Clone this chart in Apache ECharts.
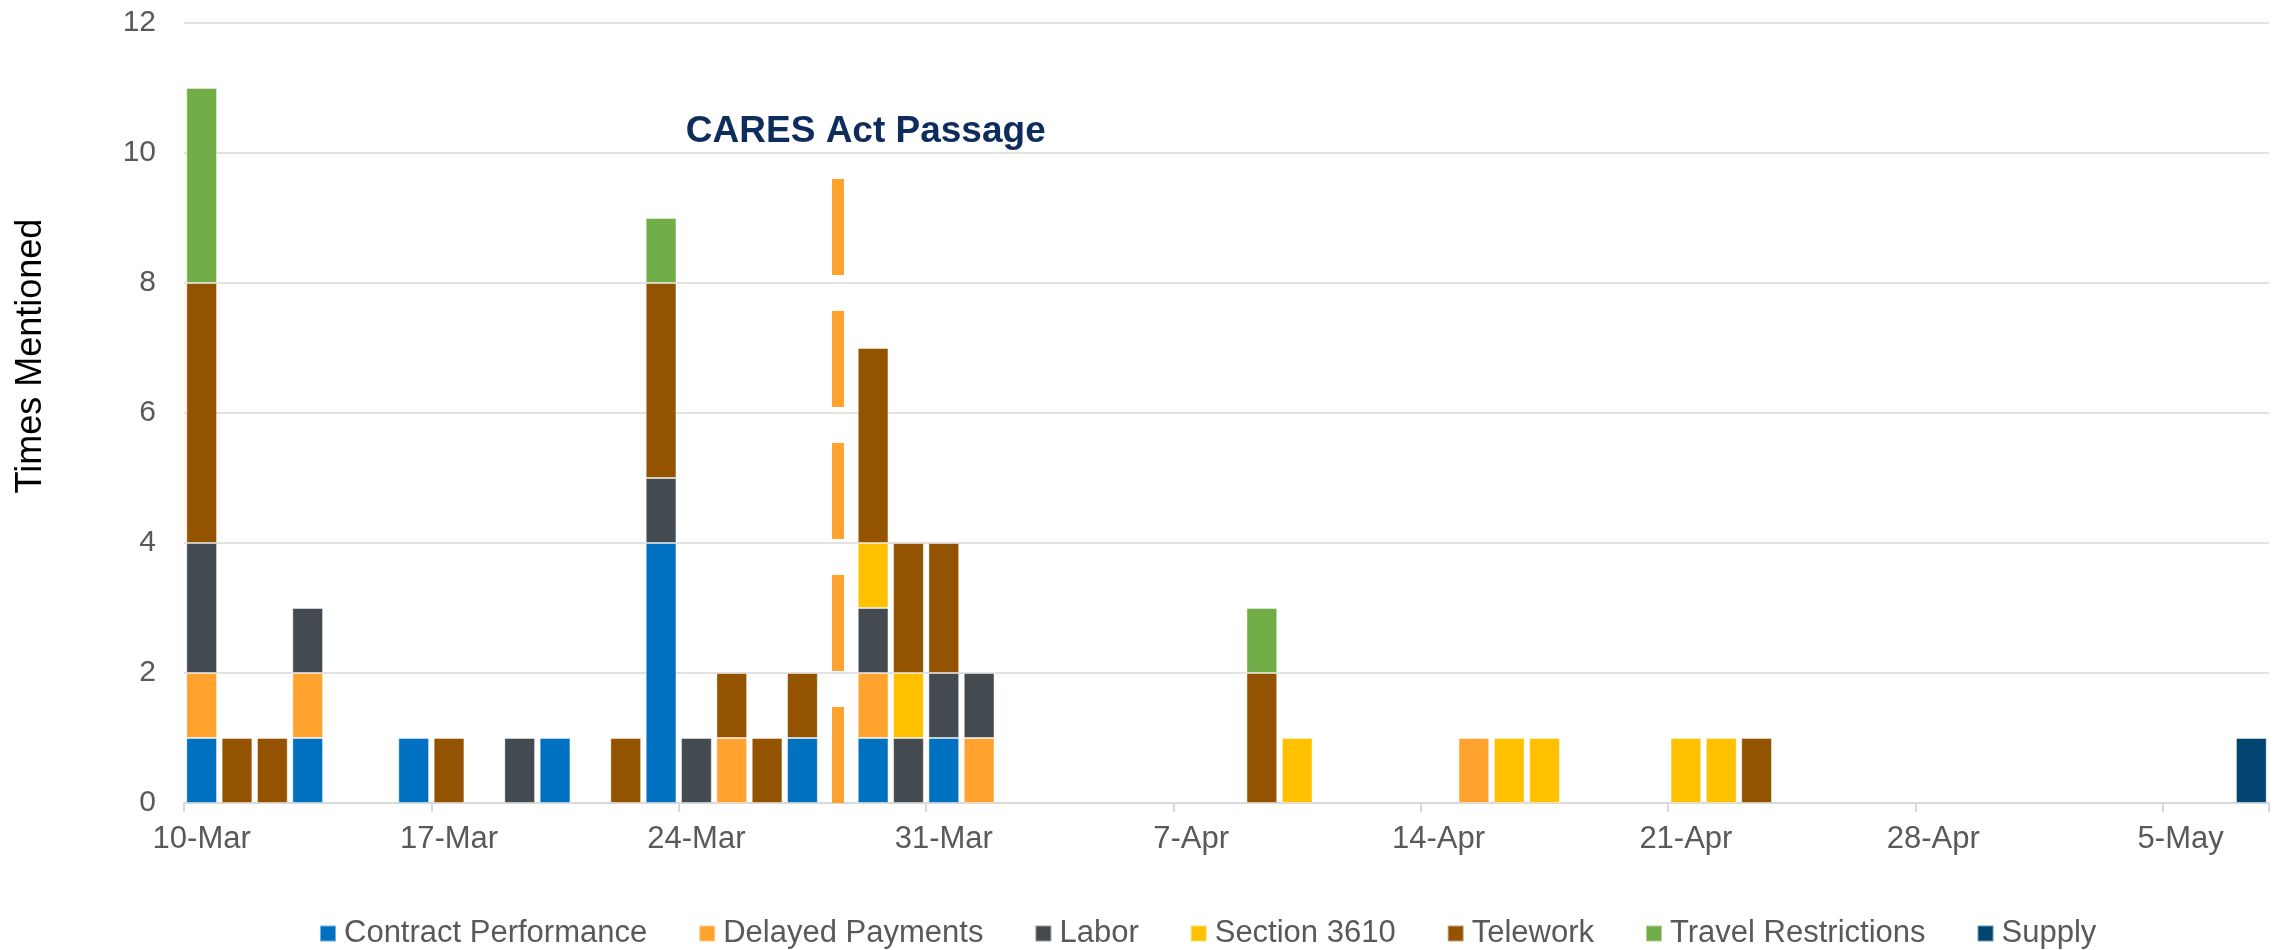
<!DOCTYPE html>
<html>
<head>
<meta charset="utf-8">
<title>Times Mentioned</title>
<script src="https://cdn.jsdelivr.net/npm/echarts@6/dist/echarts.min.js"></script>
<style>
  html, body { margin: 0; padding: 0; background: #fff; }
  #charts { width: 2280px; height: 950px; }
</style>
</head>
<body>
<div id="charts"></div>
<script>
// one category per day, 10-Mar .. 7-May
let days = [
  "10-Mar", "11-Mar", "12-Mar", "13-Mar", "14-Mar", "15-Mar", "16-Mar",
  "17-Mar", "18-Mar", "19-Mar", "20-Mar", "21-Mar", "22-Mar", "23-Mar",
  "24-Mar", "25-Mar", "26-Mar", "27-Mar", "28-Mar", "29-Mar", "30-Mar",
  "31-Mar", "1-Apr", "2-Apr", "3-Apr", "4-Apr", "5-Apr", "6-Apr",
  "7-Apr", "8-Apr", "9-Apr", "10-Apr", "11-Apr", "12-Apr", "13-Apr",
  "14-Apr", "15-Apr", "16-Apr", "17-Apr", "18-Apr", "19-Apr", "20-Apr",
  "21-Apr", "22-Apr", "23-Apr", "24-Apr", "25-Apr", "26-Apr", "27-Apr",
  "28-Apr", "29-Apr", "30-Apr", "1-May", "2-May", "3-May", "4-May",
  "5-May", "6-May", "7-May"
];

// 10-Mar                17-Mar                24-Mar                31-Mar                7-Apr                 14-Apr                21-Apr                28-Apr                5-May
let contractPerformance = [
  1, 0, 0, 1, 0, 0, 1,   0, 0, 0, 1, 0, 0, 4,   0, 0, 0, 1, 0, 1, 0,   1, 0, 0, 0, 0, 0, 0,   0, 0, 0, 0, 0, 0, 0,   0, 0, 0, 0, 0, 0, 0,   0, 0, 0, 0, 0, 0, 0,   0, 0, 0, 0, 0, 0, 0,   0, 0, 0
];
let delayedPayments = [
  1, 0, 0, 1, 0, 0, 0,   0, 0, 0, 0, 0, 0, 0,   0, 1, 0, 0, 0, 1, 0,   0, 1, 0, 0, 0, 0, 0,   0, 0, 0, 0, 0, 0, 0,   0, 1, 0, 0, 0, 0, 0,   0, 0, 0, 0, 0, 0, 0,   0, 0, 0, 0, 0, 0, 0,   0, 0, 0
];
let labor = [
  2, 0, 0, 1, 0, 0, 0,   0, 0, 1, 0, 0, 0, 1,   1, 0, 0, 0, 0, 1, 1,   1, 1, 0, 0, 0, 0, 0,   0, 0, 0, 0, 0, 0, 0,   0, 0, 0, 0, 0, 0, 0,   0, 0, 0, 0, 0, 0, 0,   0, 0, 0, 0, 0, 0, 0,   0, 0, 0
];
let section3610 = [
  0, 0, 0, 0, 0, 0, 0,   0, 0, 0, 0, 0, 0, 0,   0, 0, 0, 0, 0, 1, 1,   0, 0, 0, 0, 0, 0, 0,   0, 0, 0, 1, 0, 0, 0,   0, 0, 1, 1, 0, 0, 0,   1, 1, 0, 0, 0, 0, 0,   0, 0, 0, 0, 0, 0, 0,   0, 0, 0
];
let telework = [
  4, 1, 1, 0, 0, 0, 0,   1, 0, 0, 0, 0, 1, 3,   0, 1, 1, 1, 0, 3, 2,   2, 0, 0, 0, 0, 0, 0,   0, 0, 2, 0, 0, 0, 0,   0, 0, 0, 0, 0, 0, 0,   0, 0, 1, 0, 0, 0, 0,   0, 0, 0, 0, 0, 0, 0,   0, 0, 0
];
let travelRestrictions = [
  3, 0, 0, 0, 0, 0, 0,   0, 0, 0, 0, 0, 0, 1,   0, 0, 0, 0, 0, 0, 0,   0, 0, 0, 0, 0, 0, 0,   0, 0, 1, 0, 0, 0, 0,   0, 0, 0, 0, 0, 0, 0,   0, 0, 0, 0, 0, 0, 0,   0, 0, 0, 0, 0, 0, 0,   0, 0, 0
];
let supply = [
  0, 0, 0, 0, 0, 0, 0,   0, 0, 0, 0, 0, 0, 0,   0, 0, 0, 0, 0, 0, 0,   0, 0, 0, 0, 0, 0, 0,   0, 0, 0, 0, 0, 0, 0,   0, 0, 0, 0, 0, 0, 0,   0, 0, 0, 0, 0, 0, 0,   0, 0, 0, 0, 0, 0, 0,   0, 0, 1
];

let seriesNames = ["Contract Performance", "Delayed Payments", "Labor", "Section 3610", "Telework", "Travel Restrictions", "Supply"];
let seriesValues = [contractPerformance, delayedPayments, labor, section3610, telework, travelRestrictions, supply];
let seriesColors = ["#0070C0", "#FFA22E", "#434A50", "#FFC000", "#935300", "#70AD47", "#00446F"];
let yTicks = [0, 2, 4, 6, 8, 10, 12];

// CARES Act marker
let caresDay = "28-Mar";
let caresTop = 9.6;
let caresText = "CARES Act Passage";

let font = "'Liberation Sans', Arial, sans-serif";

let series = seriesNames.map((name, i) => ({
  name: name,
  type: "bar",
  stack: "total",
  barCategoryGap: "13%",
  itemStyle: {
    color: seriesColors[i],
    borderColor: "rgba(255,255,255,0.45)",
    borderWidth: 1
  },
  data: seriesValues[i].map(v => (v ? v : null))
}));

// dashed line for the CARES Act, hung on the first series
series[0].markLine = {
  silent: true,
  symbol: "none",
  lineStyle: {
    color: "#FFA22E",
    width: 12,
    type: [96, 36]
  },
  label: {
    show: true,
    position: "end",
    formatter: caresText,
    color: "#0E2D5C",
    fontFamily: font,
    fontWeight: "bold",
    fontSize: 37,
    offset: [28, -24]
  },
  data: [[{ coord: [caresDay, 0] }, { coord: [caresDay, caresTop] }]]
};

let option = {
  animation: false,
  backgroundColor: "#fff",
  grid: { left: 184, right: 11, top: 23, bottom: 147, containLabel: false },
  legend: {
    data: seriesNames,
    left: 314,
    top: 913,
    icon: "rect",
    itemWidth: 16,
    itemHeight: 16,
    itemGap: 51,
    textStyle: {
      color: "#595959",
      fontFamily: font,
      fontSize: 31,
      padding: [0, 0, 0, 3]
    }
  },
  xAxis: {
    type: "category",
    data: days,
    boundaryGap: true,
    axisLine: { lineStyle: { color: "#D9D9D9", width: 2 } },
    axisTick: { show: true, interval: 6, length: 9, lineStyle: { color: "#D9D9D9", width: 2 } },
    axisLabel: {
      interval: 6,
      margin: 21,
      color: "#595959",
      fontFamily: font,
      fontSize: 31
    },
    splitLine: { show: false }
  },
  yAxis: {
    type: "value",
    min: yTicks[0],
    max: yTicks[yTicks.length - 1],
    interval: 2,
    axisLine: { show: false },
    axisTick: { show: false },
    axisLabel: {
      margin: 28,
      color: "#595959",
      fontFamily: font,
      fontSize: 30
    },
    splitLine: { lineStyle: { color: "#D9D9D9", width: 1.5 } }
  },
  graphic: [
    {
      type: "text",
      x: 31,
      y: 356,
      rotation: Math.PI / 2,
      style: {
        text: "Times Mentioned",
        fill: "#000",
        font: "36px " + font,
        textAlign: "center",
        textVerticalAlign: "middle"
      }
    }
  ],
  series: series
};

let myChart = echarts.init(document.getElementById("charts"));
myChart.setOption(option);
</script>
</body>
</html>
